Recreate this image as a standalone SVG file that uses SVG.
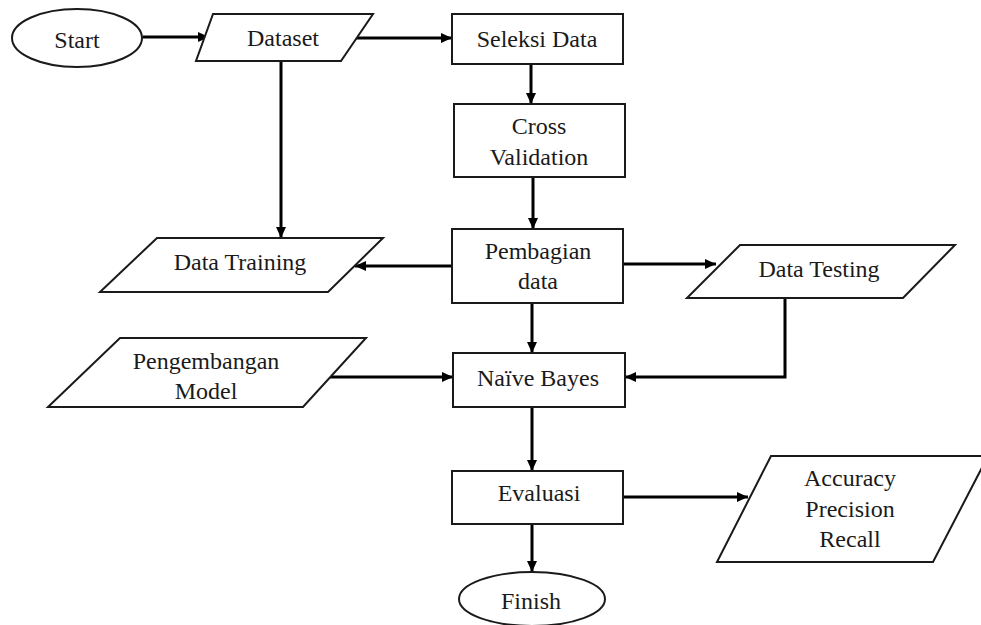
<svg xmlns="http://www.w3.org/2000/svg" width="981" height="625" viewBox="0 0 981 625">
<style>
.shape{fill:#fff;stroke:#1a1a1a;stroke-width:2}
.t{font-family:"Liberation Serif","Times New Roman",serif;font-size:24px;fill:#1a1a1a;text-anchor:middle}
.c{fill:none;stroke:#000;stroke-width:3;marker-end:url(#ah)}
</style>
<defs>
<marker id="ah" markerUnits="userSpaceOnUse" markerWidth="12" markerHeight="12" refX="11" refY="6" orient="auto">
<path d="M0,1 L11,6 L0,11 Z" fill="#000"/>
</marker>
</defs>
<rect width="981" height="625" fill="#fff"/>
<g id="connectors">
<line class="c" x1="143" y1="37" x2="209" y2="37"/>
<line class="c" x1="352" y1="38" x2="452" y2="38"/>
<line class="c" x1="281" y1="61" x2="281" y2="238"/>
<line class="c" x1="531" y1="64" x2="531" y2="104"/>
<line class="c" x1="533" y1="177" x2="533" y2="229"/>
<line class="c" x1="452" y1="266" x2="355" y2="266"/>
<line class="c" x1="623" y1="264" x2="716" y2="264"/>
<line class="c" x1="532" y1="303" x2="532" y2="353"/>
<polyline class="c" points="785,298 785,377 625,377"/>
<line class="c" x1="328" y1="377" x2="453" y2="377"/>
<line class="c" x1="532" y1="407" x2="532" y2="471"/>
<line class="c" x1="623" y1="497" x2="748" y2="497"/>
<line class="c" x1="532" y1="524" x2="532" y2="572"/>
</g>
<g id="start">
<ellipse class="shape" cx="77" cy="38" rx="65" ry="29"/>
<text class="t" x="77" y="48">Start</text>
</g>
<g id="dataset">
<polygon class="shape" points="213,14 373,14 341,61 196,61"/>
<text class="t" x="283" y="46">Dataset</text>
</g>
<g id="seleksi">
<rect class="shape" x="452" y="14" width="171" height="50"/>
<text class="t" x="537" y="47">Seleksi Data</text>
</g>
<g id="cross">
<rect class="shape" x="454" y="104" width="171" height="73"/>
<text class="t" x="539" y="134">Cross</text>
<text class="t" x="539" y="165">Validation</text>
</g>
<g id="pembagian">
<rect class="shape" x="452" y="229" width="171" height="74"/>
<text class="t" x="538" y="259">Pembagian</text>
<text class="t" x="538" y="289">data</text>
</g>
<g id="training">
<polygon class="shape" points="157,238 383,238 328,292 100,292"/>
<text class="t" x="240" y="270">Data Training</text>
</g>
<g id="testing">
<polygon class="shape" points="740,245 955,245 903,298 687,298"/>
<text class="t" x="819" y="277">Data Testing</text>
</g>
<g id="pengembangan">
<polygon class="shape" points="120,338 366,338 303,407 48,407"/>
<text class="t" x="206" y="369">Pengembangan</text>
<text class="t" x="206" y="399">Model</text>
</g>
<g id="naive">
<rect class="shape" x="453" y="353" width="172" height="54"/>
<text class="t" x="538" y="386">Naïve Bayes</text>
</g>
<g id="evaluasi">
<rect class="shape" x="452" y="471" width="171" height="53"/>
<text class="t" x="539" y="501">Evaluasi</text>
</g>
<g id="metrics">
<polygon class="shape" points="771,456 988,456 933,562 717,562"/>
<text class="t" x="850" y="486">Accuracy</text>
<text class="t" x="850" y="517">Precision</text>
<text class="t" x="850" y="547">Recall</text>
</g>
<g id="finish">
<ellipse class="shape" cx="532" cy="599" rx="73" ry="27"/>
<text class="t" x="531" y="609">Finish</text>
</g>
</svg>
